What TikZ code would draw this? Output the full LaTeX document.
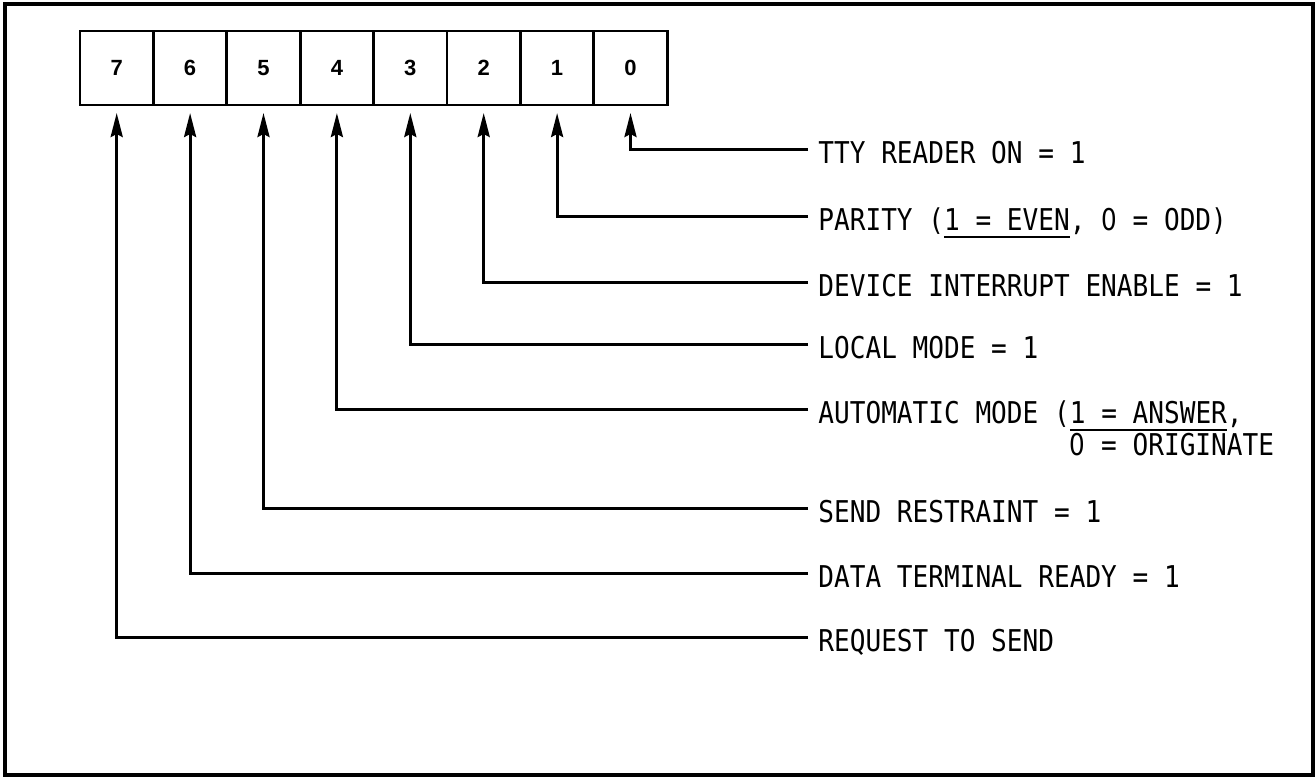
\documentclass[tikz,border=0pt]{standalone}
\usepackage{fontspec}
\usepackage{xcolor}
\usetikzlibrary{positioning, arrows.meta}
\newfontfamily\lblfont[FakeStretch=0.87]{DejaVu Sans Mono}
\newfontfamily\zerofont[FakeStretch=0.82]{DejaVu Sans}
\newfontfamily\bitfont{Liberation Sans}
\newcommand{\undl}[1]{\setbox0\hbox{#1}\rlap{\rule[-4pt]{\wd0}{1.1pt}}\box0}
\newcommand{\zr}{{\zerofont 0}}

\begin{document}
\begin{tikzpicture}[x=0.5pt, y=-0.5pt,
    bitbox/.style={draw, line width=1.4pt, minimum width=36.7pt, minimum height=37pt,
        outer sep=0pt, inner sep=0pt, font=\bitfont\bfseries\fontsize{11pt}{13pt}\selectfont},
    lbl/.style={anchor=west, inner xsep=5pt, inner ysep=0pt, text height=14pt, text depth=0pt,
        font=\lblfont\fontsize{15pt}{16pt}\selectfont},
    arr/.style={line width=1.5pt, -{Stealth[length=12pt, width=6pt, inset=1.5pt]}, shorten >=4pt}]
        \useasboundingbox (0,0) rectangle (1316,777);

        % Outer frame
        \draw[line width=1.6pt] (5,4) rectangle (1313,775);

        % Register boxes
        \node[bitbox, anchor=north west] (b7) at (80,31) {7};
        \node[bitbox, right=0pt of b7] (b6) {6};
        \node[bitbox, right=0pt of b6] (b5) {5};
        \node[bitbox, right=0pt of b5] (b4) {4};
        \node[bitbox, right=0pt of b4] (b3) {3};
        \node[bitbox, right=0pt of b3] (b2) {2};
        \node[bitbox, right=0pt of b2] (b1) {1};
        \node[bitbox, right=0pt of b1] (b0) {0};

        % Bit labels
        \node[lbl] (l0) at (808,149) {TTY READER ON = 1};
        \node[lbl] (l1) at (808,216) {PARITY (\undl{1 = EVEN}, \zr{} = ODD)};
        \node[lbl] (l2) at (808,282) {DEVICE INTERRUPT ENABLE = 1};
        \node[lbl] (l3) at (808,344) {LOCAL MODE = 1};
        \node[lbl] (l4) at (808,409) {AUTOMATIC MODE (\undl{1 = ANSWER},};
        \node[lbl, anchor=base west] (l4b) at ([yshift=-16pt]l4.base west) {\phantom{AUTOMATIC MODE (}\zr{} = ORIGINATE};
        \node[lbl] (l5) at (808,508) {SEND RESTRAINT = 1};
        \node[lbl] (l6) at (808,573) {DATA TERMINAL READY = 1};
        \node[lbl] (l7) at (808,637) {REQUEST TO SEND};

        % Arrows up to the bits
        \draw[arr] (l0.west) -| (b0.south);
        \draw[arr] (l1.west) -| (b1.south);
        \draw[arr] (l2.west) -| (b2.south);
        \draw[arr] (l3.west) -| (b3.south);
        \draw[arr] (l4.west) -| (b4.south);
        \draw[arr] (l5.west) -| (b5.south);
        \draw[arr] (l6.west) -| (b6.south);
        \draw[arr] (l7.west) -| (b7.south);
    \end{tikzpicture}
\end{document}
